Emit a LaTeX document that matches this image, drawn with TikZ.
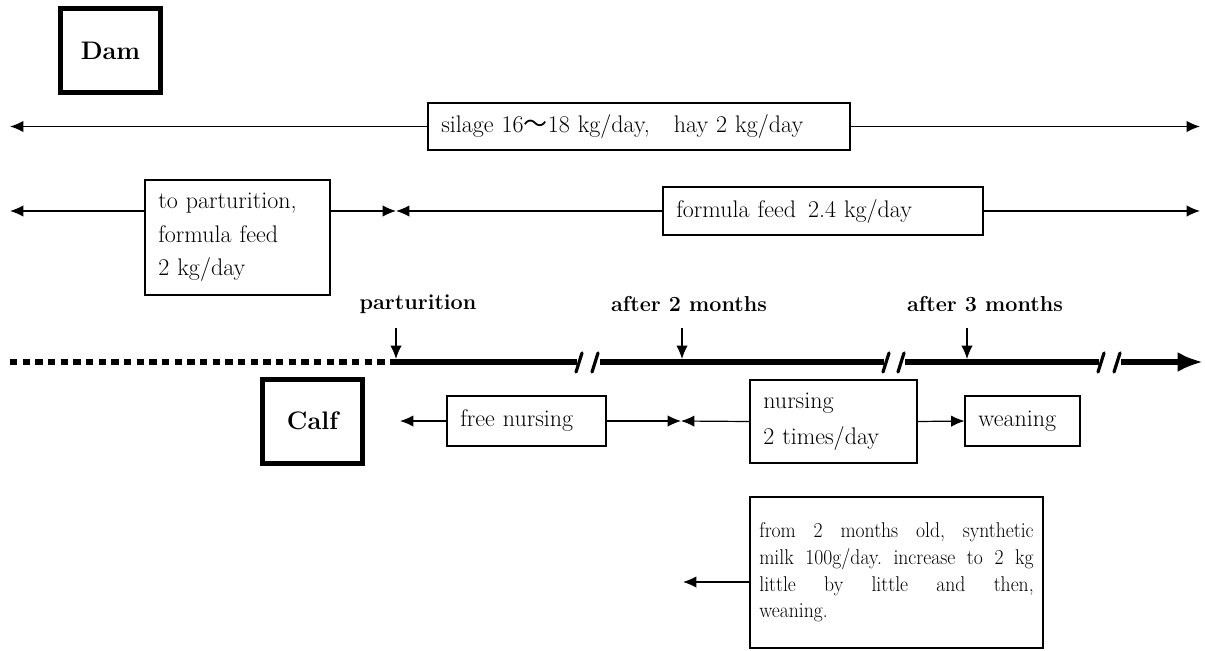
\documentclass[tikz,border=0pt]{standalone}
\usepackage{fontspec}
\usepackage{tikz}
\usetikzlibrary{arrows.meta}
\newfontfamily\cjkfont{Noto Sans CJK JP}
\newfontfamily\narrowfont[FakeStretch=0.92]{Latin Modern Roman}
\newcommand{\txtfont}{\fontsize{18}{22}\selectfont}

\tikzset{
  tag/.style={draw,line width=3.75pt,font=\fontsize{19}{23}\selectfont\bfseries,
    minimum width=75pt,minimum height=63pt,inner sep=0pt},
  feedbox/.style={draw,line width=0.8pt,font=\txtfont,align=left,
    inner xsep=10pt,inner ysep=0pt},
  when/.style={font=\fontsize{16.2}{19}\selectfont\bfseries,inner sep=1pt},
  arr/.style={line width=0.9pt,-{Latex[length=10pt,width=8.5pt]}},
  timeline/.style={line width=4.5pt},
  cut/.style={line width=2.4pt,line cap=round}
}

\begin{document}
\begin{tikzpicture}[x=0.75pt,y=-0.75pt]
\useasboundingbox (0,0) rectangle (1205,650);

\node[tag] (dam) at (110.5,50.5) {Dam};
\node[tag] (calf) at (312.5,421) {Calf};

\node[feedbox,text width=296.5pt,minimum height=35.25pt] (silage) at (639,126.5)
  {silage 16{\cjkfont 〜}18 kg/day,\quad hay 2 kg/day};
\node[feedbox,text width=118.75pt,minimum height=86.25pt,font=\fontsize{18}{25}\selectfont] (prefeed) at (237.5,237.5)
  {to parturition,\\ formula feed\\ 2 kg/day};
\node[feedbox,text width=220pt,minimum height=36pt] (postfeed) at (823,211)
  {formula feed\enspace 2.4 kg/day};

\coordinate (s0) at (10,126.5);
\coordinate (s1) at (1200,126.5);
\draw[arr] (silage.west) -- (s0);
\draw[arr] (silage.east) -- (s1);

\coordinate (f0) at (10,211);
\coordinate (f1) at (396,211);
\coordinate (f2) at (1200,211);
\draw[arr] (f0 -| prefeed.west) -- (f0);
\draw[arr] (f0 -| prefeed.east) -- (f1);
\draw[arr] (postfeed.west) -- (f1);
\draw[arr] (postfeed.east) -- (f2);

\node[when] (lpart) at (418,304) {parturition};
\node[when] (ltwo) at (689,304) {after 2 months};
\node[when] (lthree) at (985,304) {after 3 months};

\draw[timeline,dash pattern=on 5.5pt off 4pt] (10,362) -- (393,362);
\draw[timeline] (393,362) -- (577,362);
\draw[timeline] (600,362) -- (884,362);
\draw[timeline] (905,362) -- (1099,362);
\draw[timeline,-{Latex[length=19pt,width=15pt]}] (1121,362) -- (1203,362);
\draw[cut] (576,372) -- (582,353);
\draw[cut] (592,372) -- (598,353);
\draw[cut] (883,372) -- (889,353);
\draw[cut] (898,372) -- (904,353);
\draw[cut] (1098,372) -- (1104,353);
\draw[cut] (1114,372) -- (1120,353);

\coordinate (t0) at (396,359);
\coordinate (t1) at (682,359);
\coordinate (t2) at (967,359);
\draw[arr] (396,328) -- (t0);
\draw[arr] (682,328) -- (t1);
\draw[arr] (967,328) -- (t2);

\node[feedbox,text width=99.25pt,minimum height=37.5pt] (free) at (526.5,421) {free nursing};
\node[feedbox,text width=105.25pt,minimum height=62.25pt,font=\fontsize{18}{27}\selectfont] (twice) at (833.5,421.5)
  {nursing\\ 2 times/day};
\node[feedbox,text width=66.25pt,minimum height=37.5pt] (wean) at (1022.5,421) {weaning};

\coordinate (c0) at (400,421);
\coordinate (c1) at (681,421);
\draw[arr] (free.west) -- (c0);
\draw[arr] (free.east) -- (c1);
\draw[arr] (twice.west) -- (c1);
\draw[arr] (twice.east) -- (wean.west);

\node[feedbox,text width=205.75pt,inner xsep=7pt,minimum height=113.25pt,align=justify,
  font=\narrowfont\fontsize{16}{20}\selectfont\frenchspacing] (milk) at (896.5,572.5)
  {from 2 months old, synthetic\linebreak milk 100g/day. increase to 2 kg\linebreak little by little and then,\linebreak weaning.};
\coordinate (m0) at (683,582);
\draw[arr] (milk.west |- m0) -- (m0);
\end{tikzpicture}
\end{document}
